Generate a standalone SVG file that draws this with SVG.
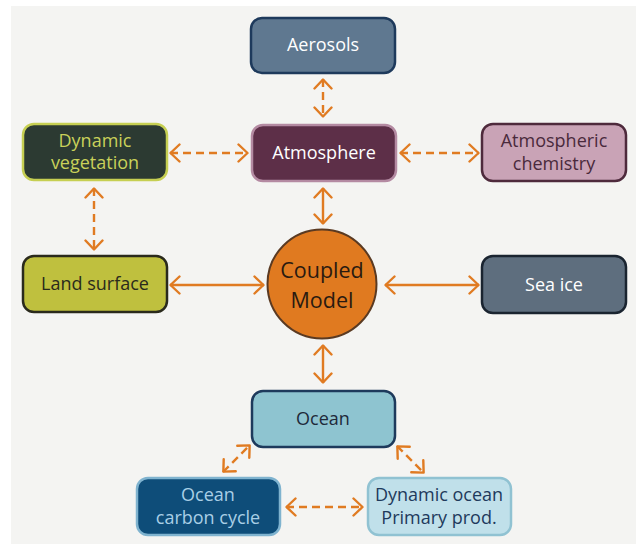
<svg xmlns="http://www.w3.org/2000/svg" width="636" height="544" viewBox="0 0 636 544">
  <defs>
    <marker id="chev" markerUnits="userSpaceOnUse" viewBox="0 0 12 20" markerWidth="12" markerHeight="20" refX="11" refY="10" orient="auto-start-reverse">
      <path d="M1.5,1.5 L10.5,10 L1.5,18.5" fill="none" stroke="#e07b22" stroke-width="2.4" stroke-linecap="round" stroke-linejoin="round"/>
    </marker>
    <style>
      .bg { fill: #f4f4f2; }
      .box { stroke-width: 2.5; }
      .lbl { font-family: "Open Sans", "Noto Sans", "Liberation Sans", sans-serif; font-size: 18px; text-anchor: middle; }
      .big { font-family: "Open Sans", "Noto Sans", "Liberation Sans", sans-serif; font-size: 21.5px; text-anchor: middle; fill: #2a1a10; }
      .link { fill: none; stroke: #e07b22; stroke-width: 2.4; marker-start: url(#chev); marker-end: url(#chev); }
      .dash { stroke-dasharray: 8 5; }
    </style>
  </defs>

  <rect x="0" y="0" width="636" height="544" fill="#ffffff"/>
  <rect class="bg" x="11" y="6" width="625" height="538"/>

  <!-- connectors -->
  <g id="connectors">
    <line class="link dash" x1="323" y1="79" x2="323" y2="117"/>
    <line class="link dash" x1="170" y1="153" x2="248" y2="153"/>
    <line class="link dash" x1="400" y1="153" x2="479" y2="153"/>
    <line class="link dash" x1="94" y1="188" x2="94" y2="250"/>
    <line class="link" x1="323" y1="188" x2="323" y2="224"/>
    <line class="link" x1="170" y1="285" x2="264" y2="285"/>
    <line class="link" x1="385" y1="285" x2="479" y2="285"/>
    <line class="link" x1="323" y1="345" x2="323" y2="383"/>
    <line class="link dash" x1="223" y1="472" x2="250" y2="445"/>
    <line class="link dash" x1="397" y1="446" x2="424" y2="473"/>
    <line class="link dash" x1="286" y1="507" x2="363" y2="507"/>
  </g>

  <g id="aerosols">
    <rect class="box" x="251" y="18" width="144" height="55" rx="11" fill="#5f7890" stroke="#1e3a5c"/>
    <text class="lbl" x="323" y="51" fill="#ffffff">Aerosols</text>
  </g>

  <g id="atmosphere">
    <rect class="box" x="252" y="125" width="144" height="56" rx="11" fill="#5d2f48" stroke="#b48aa2"/>
    <text class="lbl" x="324" y="159" fill="#ffffff">Atmosphere</text>
  </g>

  <g id="dynamic-vegetation">
    <rect class="box" x="23" y="124" width="144" height="56" rx="11" fill="#2c3a32" stroke="#c6cf52"/>
    <text class="lbl" x="95" y="147" fill="#c9d15a">Dynamic</text>
    <text class="lbl" x="95" y="169" fill="#c9d15a">vegetation</text>
  </g>

  <g id="atmospheric-chemistry">
    <rect class="box" x="482" y="124" width="144" height="57" rx="11" fill="#c9a3b6" stroke="#4e2a3c"/>
    <text class="lbl" x="554" y="147" fill="#4a2a3c">Atmospheric</text>
    <text class="lbl" x="554" y="170" fill="#4a2a3c">chemistry</text>
  </g>

  <g id="land-surface">
    <rect class="box" x="23" y="256" width="144" height="56" rx="11" fill="#bfc03e" stroke="#2a2a1c"/>
    <text class="lbl" x="95" y="290" fill="#2a2a1c">Land surface</text>
  </g>

  <g id="coupled-model">
    <circle cx="322" cy="284" r="54.5" fill="#e07a20" stroke="#5a3a22" stroke-width="2"/>
    <text class="big" x="322" y="278">Coupled</text>
    <text class="big" x="322" y="308">Model</text>
  </g>

  <g id="sea-ice">
    <rect class="box" x="482" y="256" width="144" height="57" rx="11" fill="#5e6e7e" stroke="#1a2430"/>
    <text class="lbl" x="554" y="291" fill="#ffffff">Sea ice</text>
  </g>

  <g id="ocean">
    <rect class="box" x="252" y="391" width="143" height="56" rx="11" fill="#8ec4d0" stroke="#1e3a5c"/>
    <text class="lbl" x="323" y="425" fill="#1e2a3a">Ocean</text>
  </g>

  <g id="ocean-carbon-cycle">
    <rect class="box" x="137" y="478" width="143" height="57" rx="11" fill="#0e4d79" stroke="#7fb3cf"/>
    <text class="lbl" x="208" y="501" fill="#a9cfe6">Ocean</text>
    <text class="lbl" x="208" y="524" fill="#a9cfe6">carbon cycle</text>
  </g>

  <g id="dynamic-ocean">
    <rect class="box" x="368" y="478" width="143" height="57" rx="11" fill="#c0e0ea" stroke="#90c2d2"/>
    <text class="lbl" x="439" y="501" fill="#1e3a5c">Dynamic ocean</text>
    <text class="lbl" x="439" y="524" fill="#1e3a5c">Primary prod.</text>
  </g>
</svg>
